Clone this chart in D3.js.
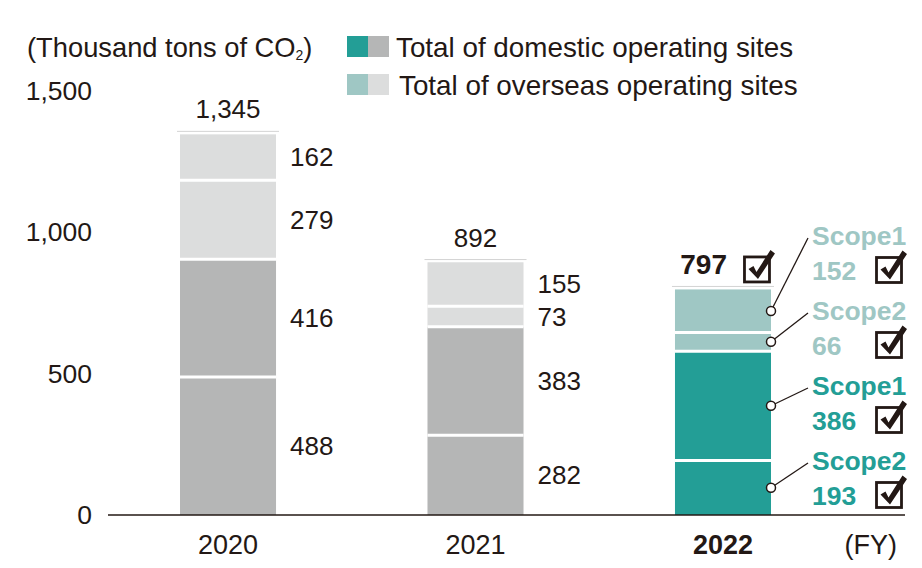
<!DOCTYPE html>
<html>
<head>
<meta charset="utf-8">
<script src="https://cdn.jsdelivr.net/npm/d3@7"></script>
<style>
  body { margin: 0; background: #fff; }
  svg text { font-family: "Liberation Sans", Arial, sans-serif; fill: #231815; }
</style>
</head>
<body>
<div class="container"></div>
<script>
// Chart values
const years = ["2020", "2021", "2022"];
const domesticScope2 = [488, 282, 193];
const domesticScope1 = [416, 383, 386];
const overseasScope2 = [279, 73, 66];
const overseasScope1 = [162, 155, 152];
const totals = [1345, 892, 797];
const yTicks = [0, 500, 1000, 1500];
const legendLabels = ["Total of domestic operating sites", "Total of overseas operating sites"];
const scopeNames = ["Scope1", "Scope2", "Scope1", "Scope2"]; // 2022 annotations, top to bottom

const width = 922;
const height = 568;

const svg = d3.select(".container").append("svg")
    .attr("width", width)
    .attr("height", height);

// colours: [domestic, overseas] for past years and for the highlighted year
const grayPal = ["#b5b6b6", "#dcdddd"];
const tealPal = ["#239e96", "#9fc7c4"];

const y = d3.scaleLinear().domain([0, 1500]).range([515, 90.5]);
const x = d3.scaleBand().domain(years).range([130.5, 820.5])
    .paddingInner(0.612).paddingOuter(0.2);

// build the stack table
const keys = ["d2", "d1", "o2", "o1"];
const table = years.map((yr, i) => ({
  year: yr, d2: domesticScope2[i], d1: domesticScope1[i], o2: overseasScope2[i], o1: overseasScope1[i]
}));
const series = d3.stack().keys(keys)(table);

function segColor(key, year) {
  const pal = year === "2022" ? tealPal : grayPal;
  return key[0] === "d" ? pal[0] : pal[1];
}

// y axis labels (no line, no ticks)
svg.append("g")
  .selectAll("text")
  .data(yTicks)
  .enter().append("text")
    .attr("x", 92)
    .attr("y", d => y(d))
    .attr("dy", "0.35em")
    .attr("text-anchor", "end")
    .attr("font-size", 26.5)
    .text(d => d3.format(",")(d));

svg.append("text")
    .attr("x", 27)
    .attr("y", 47)
    .attr("dy", "0.35em")
    .attr("font-size", 27.3)
    .call(t => {
      t.append("tspan").text("(Thousand tons of CO");
      t.append("tspan").attr("font-size", 14).attr("dy", 3).text("2");
      t.append("tspan").attr("dy", -3).text(")");
    });

// thin line above each bar
svg.append("g")
  .selectAll("line")
  .data(table)
  .enter().append("line")
    .attr("x1", d => x(d.year) - 3)
    .attr("x2", d => x(d.year) + x.bandwidth() + 3)
    .attr("y1", (d, i) => y(totals[i]) - 3)
    .attr("y2", (d, i) => y(totals[i]) - 3)
    .attr("stroke", "#d3d3d3")
    .attr("stroke-width", 1);

// bar segments
const layer = svg.append("g").selectAll("g")
  .data(series)
  .enter().append("g");

layer.selectAll("rect")
  .data(s => s.map(d => Object.assign({ key: s.key }, d)))
  .enter().append("rect")
    .attr("x", d => x(d.data.year))
    .attr("width", x.bandwidth())
    .attr("y", d => y(d[1]))
    .attr("height", d => y(d[0]) - y(d[1]))
    .attr("fill", d => segColor(d.key, d.data.year));

// white separators between segments
svg.append("g")
  .selectAll("line")
  .data(series.slice(0, 3).flatMap(s => s.map(d => ({ year: d.data.year, v: d[1] }))))
  .enter().append("line")
    .attr("x1", d => x(d.year))
    .attr("x2", d => x(d.year) + x.bandwidth())
    .attr("y1", d => y(d.v))
    .attr("y2", d => y(d.v))
    .attr("stroke", "#fff")
    .attr("stroke-width", 3);

// value labels for 2020 and 2021
const past = series.flatMap(s => s.filter(d => d.data.year !== "2022")
  .map(d => ({ year: d.data.year, v: d[1] - d[0], mid: (d[0] + d[1]) / 2 })));

svg.append("g")
  .selectAll("text")
  .data(past)
  .enter().append("text")
    .attr("x", d => x(d.year) + x.bandwidth() + 14)
    .attr("y", d => y(d.mid))
    .attr("dy", "0.35em")
    .attr("font-size", 26)
    .text(d => d.v);

// totals above bars
svg.append("g")
  .selectAll("text")
  .data(years.slice(0, 2))
  .enter().append("text")
    .attr("x", d => x(d) + x.bandwidth() / 2)
    .attr("y", (d, i) => y(totals[i]) - 25)
    .attr("dy", "0.35em")
    .attr("text-anchor", "middle")
    .attr("font-size", 26)
    .text((d, i) => d3.format(",")(totals[i]));

// checkbox with tick
function checkbox(g, cx, cy) {
  const s = 25;
  const bx = cx - s / 2, by = cy - s / 2;
  g.append("rect")
    .attr("x", bx).attr("y", by)
    .attr("width", s).attr("height", s)
    .attr("fill", "#fff")
    .attr("stroke", "#231815")
    .attr("stroke-width", 2.8);
  g.append("path")
    .attr("d", `M${bx + 4},${by + 12} L${bx + 9},${by + 9} L${bx + 12},${by + 15}
                L${bx + 26},${by - 7} L${bx + 30.5},${by - 3.5} L${bx + 13.5},${by + 22} Z`)
    .attr("fill", "#231815");
}

// 2022 total
const last = years.length - 1;
const x22 = x(years[last]);
svg.append("text")
    .attr("x", x22 + 52)
    .attr("y", y(totals[last]) - 25)
    .attr("dy", "0.35em")
    .attr("text-anchor", "end")
    .attr("font-size", 28)
    .attr("font-weight", "bold")
    .text(totals[last]);
checkbox(svg.append("g"), x22 + 82, y(totals[last]) - 20);

// 2022 annotations, top segment first
const ann = series.map(s => s[last]).reverse().map((d, i) => ({
  name: scopeNames[i],
  v: d[1] - d[0],
  mid: (d[0] + d[1]) / 2,
  color: i < 2 ? tealPal[1] : tealPal[0]
}));

const labelX = 812;
const labelTop = 236;
const labelStep = 75;
const barRight = x22 + x.bandwidth();

const ag = svg.append("g");
ann.forEach((a, i) => {
  const ly = labelTop + i * labelStep;
  ag.append("line")
    .attr("x1", barRight).attr("y1", y(a.mid))
    .attr("x2", labelX - 4).attr("y2", ly + 2)
    .attr("stroke", "#231815")
    .attr("stroke-width", 1.3);
  ag.append("circle")
    .attr("cx", barRight).attr("cy", y(a.mid))
    .attr("r", 4.5)
    .attr("fill", "#fff")
    .attr("stroke", "#231815")
    .attr("stroke-width", 1.5);
  ag.append("text")
    .attr("x", labelX).attr("y", ly)
    .attr("dy", "0.35em")
    .attr("font-size", 26.5)
    .attr("font-weight", "bold")
    .style("fill", a.color)
    .text(a.name);
  ag.append("text")
    .attr("x", labelX).attr("y", ly + 35)
    .attr("dy", "0.35em")
    .attr("font-size", 26.5)
    .attr("font-weight", "bold")
    .style("fill", a.color)
    .text(a.v);
  checkbox(ag.append("g"), 889, ly + 34);
});

// baseline
svg.append("line")
    .attr("x1", 108).attr("x2", 905)
    .attr("y1", y(0)).attr("y2", y(0))
    .attr("stroke", "#231815")
    .attr("stroke-width", 1.5);

// year labels
svg.append("g")
  .selectAll("text")
  .data(years)
  .enter().append("text")
    .attr("x", d => x(d) + x.bandwidth() / 2)
    .attr("y", 545)
    .attr("dy", "0.35em")
    .attr("text-anchor", "middle")
    .attr("font-size", 27)
    .attr("font-weight", d => d === "2022" ? "bold" : "normal")
    .text(d => d);

svg.append("text")
    .attr("x", 897)
    .attr("y", 545)
    .attr("dy", "0.35em")
    .attr("text-anchor", "end")
    .attr("font-size", 27)
    .text("(FY)");

// legend
const legend = svg.append("g");
legendLabels.forEach((lab, i) => {
  const ly = 36 + i * 38;
  legend.append("rect").attr("x", 347).attr("y", ly).attr("width", 21).attr("height", 21)
    .attr("fill", i === 0 ? tealPal[0] : tealPal[1]);
  legend.append("rect").attr("x", 368).attr("y", ly).attr("width", 21).attr("height", 21)
    .attr("fill", i === 0 ? grayPal[0] : grayPal[1]);
  legend.append("text")
    .attr("x", 396 + i * 3)
    .attr("y", ly + 11)
    .attr("dy", "0.35em")
    .attr("font-size", 27.8)
    .text(lab);
});
</script>
</body>
</html>
